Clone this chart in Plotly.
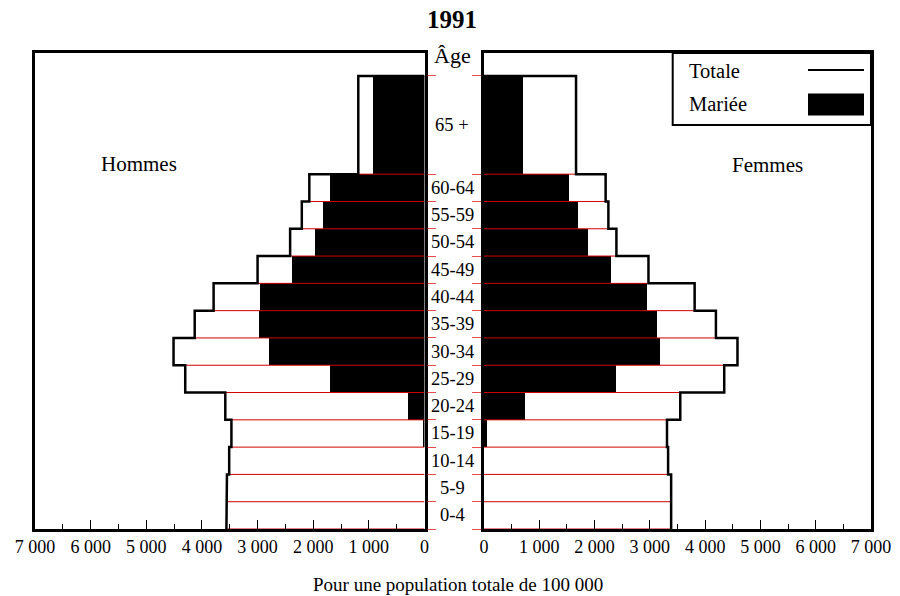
import plotly.graph_objects as go

# ---------------- data ----------------
age_groups = ["0-4", "5-9", "10-14", "15-19", "20-24", "25-29", "30-34",
              "35-39", "40-44", "45-49", "50-54", "55-59", "60-64", "65 +"]
age_lower = [0, 5, 10, 15, 20, 25, 30, 35, 40, 45, 50, 55, 60, 65]
age_upper = [5, 10, 15, 20, 25, 30, 35, 40, 45, 50, 55, 60, 65, 83]

men_total = [3560, 3550, 3510, 3470, 3580, 4300, 4510, 4130, 3790, 3000, 2415, 2205, 2070, 1190]
men_married = [0, 0, 0, 20, 300, 1690, 2790, 2970, 2960, 2390, 1970, 1830, 1700, 930]
women_total = [3385, 3385, 3330, 3310, 3550, 4345, 4585, 4195, 3810, 2975, 2395, 2250, 2200, 1665]
women_married = [0, 0, 0, 60, 740, 2385, 3175, 3130, 2940, 2300, 1890, 1695, 1545, 700]

x_tickvals = [0, 1000, 2000, 3000, 4000, 5000, 6000, 7000]
x_ticktext = ["0", "1 000", "2 000", "3 000", "4 000", "5 000", "6 000", "7 000"]

title_text = "1991"
men_label = "Hommes"
women_label = "Femmes"
age_label = "Âge"
legend_total = "Totale"
legend_married = "Mariée"
x_title = "Pour une population totale de 100 000"

# ---------------- geometry helpers ----------------
W, H = 900, 596
ML, MR, MT, MB = 35, 29, 53, 67
PW = W - ML - MR
PH = H - MT - MB


def px(x):
    return (x - ML) / PW


def py(y):
    return (H - MB - y) / PH


Y_MAX = 87.2
FONT = "Liberation Serif, Times New Roman, serif"
RED = "rgb(210,0,0)"

mids = [(a + b) / 2 for a, b in zip(age_lower, age_upper)]
widths = [b - a for a, b in zip(age_lower, age_upper)]
boundaries = age_lower + [age_upper[-1]]

fig = go.Figure()


def add_side(totals, married, xa, ya):
    # total bars (white)
    fig.add_trace(go.Bar(x=totals, y=mids, width=widths, base=0, orientation="h",
                         marker=dict(color="white", line=dict(width=0)),
                         xaxis=xa, yaxis=ya, showlegend=False, hoverinfo="skip"))
    # married bars (black)
    fig.add_trace(go.Bar(x=married, y=mids, width=widths, base=0, orientation="h",
                         marker=dict(color="black", line=dict(width=0)),
                         xaxis=xa, yaxis=ya, showlegend=False, hoverinfo="skip"))
    # red separator lines at group boundaries
    rx, ry = [], []
    for i, b in enumerate(boundaries):
        lo = totals[i - 1] if i > 0 else totals[0]
        hi = totals[i] if i < len(totals) else totals[-1]
        rx += [0, max(lo, hi), None]
        ry += [b, b, None]
    fig.add_trace(go.Scatter(x=rx, y=ry, mode="lines", line=dict(color=RED, width=1),
                             xaxis=xa, yaxis=ya, showlegend=False, hoverinfo="skip"))
    # black step outline of the totals
    sx, sy = [], []
    for t, lo, hi in zip(totals, age_lower, age_upper):
        sx += [t, t]
        sy += [lo, hi]
    sx.append(0)
    sy.append(age_upper[-1])
    fig.add_trace(go.Scatter(x=sx, y=sy, mode="lines", line=dict(color="black", width=2.5),
                             xaxis=xa, yaxis=ya, showlegend=False, hoverinfo="skip"))


add_side(men_total, men_married, "x", "y")
add_side(women_total, women_married, "x2", "y2")

left_end = px(424.5)
right_start = px(484)

common_x = dict(tickmode="array", tickvals=x_tickvals, ticktext=x_ticktext,
                ticks="inside", ticklen=9, tickwidth=1.3, tickcolor="black",
                showline=True, linewidth=2.5, linecolor="black", mirror=True,
                showgrid=False, zeroline=False, automargin=False,
                tickfont=dict(family=FONT, size=18, color="black"),
                minor=dict(tickvals=[500, 1500, 2500, 3500, 4500, 5500, 6500],
                           ticks="inside", ticklen=5, tickwidth=1.2, tickcolor="black"))
common_y = dict(range=[0, Y_MAX], tickmode="array", tickvals=boundaries,
                ticks="outside", ticklen=9, tickwidth=1.3, tickcolor="rgba(220,0,0,0.7)",
                showticklabels=False, showline=True, linewidth=2.5, linecolor="black",
                mirror=True, showgrid=False, zeroline=False, automargin=False)

fig.update_layout(
    width=W, height=H,
    margin=dict(l=ML, r=MR, t=MT, b=MB, autoexpand=False),
    paper_bgcolor="white", plot_bgcolor="white",
    barmode="overlay", bargap=0,
    font=dict(family=FONT, color="black"),
    xaxis=dict(domain=[0, left_end], range=[7000, 0], anchor="y", **common_x),
    xaxis2=dict(domain=[right_start, 1], range=[0, 7000], anchor="y2", **common_x),
    yaxis=dict(domain=[0, 1], anchor="x", side="right", **common_y),
    yaxis2=dict(domain=[0, 1], anchor="x2", side="left", **common_y),
    title=dict(text="<b>" + title_text + "</b>", x=452 / W, xref="container", xanchor="center",
               y=1 - 19 / H, yref="container", yanchor="middle",
               font=dict(family=FONT, size=25, color="black")),
    showlegend=False,
)

center_x = px(452)
annotations = []
for lab, m in zip(age_groups, mids):
    annotations.append(dict(text=lab, x=center_x, xref="paper", y=m, yref="y",
                            showarrow=False, xanchor="center", yanchor="middle",
                            font=dict(family=FONT, size=18.5, color="black")))
annotations.append(dict(text=age_label, x=center_x, xref="paper", y=py(56), yref="paper",
                        showarrow=False, xanchor="center", yanchor="middle",
                        font=dict(family=FONT, size=22, color="black")))
annotations.append(dict(text=men_label, x=px(139), xref="paper", y=py(164), yref="paper",
                        showarrow=False, xanchor="center", yanchor="middle",
                        font=dict(family=FONT, size=21, color="black")))
annotations.append(dict(text=women_label, x=px(767.5), xref="paper", y=py(165), yref="paper",
                        showarrow=False, xanchor="center", yanchor="middle",
                        font=dict(family=FONT, size=21, color="black")))
annotations.append(dict(text=legend_total, x=px(687), xref="paper", y=py(71), yref="paper",
                        showarrow=False, xanchor="left", yanchor="middle",
                        font=dict(family=FONT, size=20.5, color="black")))
annotations.append(dict(text=legend_married, x=px(687), xref="paper", y=py(104), yref="paper",
                        showarrow=False, xanchor="left", yanchor="middle",
                        font=dict(family=FONT, size=20.5, color="black")))
annotations.append(dict(text=x_title, x=px(458), xref="paper", y=py(584), yref="paper",
                        showarrow=False, xanchor="center", yanchor="middle",
                        font=dict(family=FONT, size=19, color="black")))
fig.update_layout(annotations=annotations)

shapes = [
    dict(type="rect", xref="paper", yref="paper", x0=px(672.7), x1=1, y0=py(125), y1=1,
         line=dict(color="black", width=2), fillcolor="white", layer="above"),
    dict(type="line", xref="paper", yref="paper", x0=px(808), x1=px(864), y0=py(70), y1=py(70),
         line=dict(color="black", width=2), layer="above"),
    dict(type="rect", xref="paper", yref="paper", x0=px(808), x1=px(864), y0=py(115.5), y1=py(93.5),
         line=dict(color="black", width=0), fillcolor="black", layer="above"),
]
fig.update_layout(shapes=shapes)

fig.write_html("out.html",
               config={"displayModeBar": False},
               post_script="document.body.style.margin='0';document.body.style.padding='0';")
